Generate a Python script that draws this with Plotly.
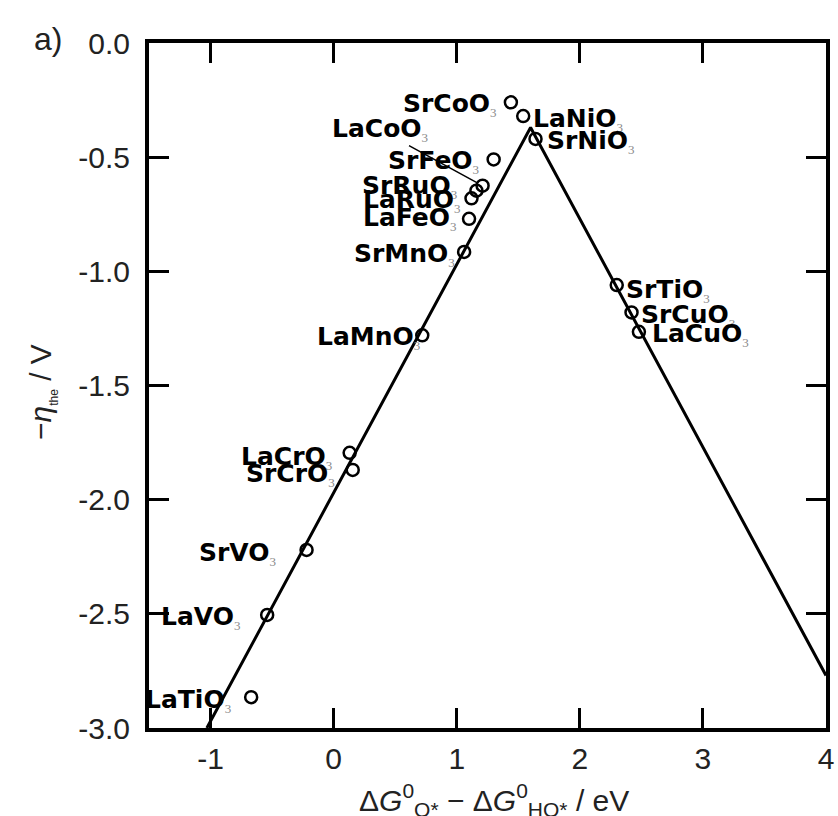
import plotly.graph_objects as go

# ---- data ----
compounds = ["SrCoO3", "LaNiO3", "SrNiO3", "SrFeO3", "LaCoO3", "SrRuO3", "LaRuO3",
             "LaFeO3", "SrMnO3", "LaMnO3", "SrTiO3", "SrCuO3", "LaCuO3", "LaCrO3",
             "SrCrO3", "SrVO3", "LaVO3", "LaTiO3"]
dG_diff = [1.44, 1.54, 1.64, 1.30, 1.21, 1.16, 1.12, 1.10, 1.06, 0.72, 2.30, 2.42,
           2.48, 0.13, 0.155, -0.22, -0.54, -0.67]
neg_eta = [-0.26, -0.32, -0.42, -0.51, -0.625, -0.647, -0.68, -0.77, -0.915, -1.28,
           -1.06, -1.18, -1.265, -1.795, -1.87, -2.22, -2.505, -2.865]

volcano_x = [-1.03, 1.60, 4.0]
volcano_y = [-3.0, -0.37, -2.77]

x_ticks = [-1, 0, 1, 2, 3, 4]
x_ticktext = ["-1", "0", "1", "2", "3", "4"]
y_ticks = [0.0, -0.5, -1.0, -1.5, -2.0, -2.5, -3.0]
y_ticktext = ["0.0", "-0.5", "-1.0", "-1.5", "-2.0", "-2.5", "-3.0"]

# ---- label placement (style only) ----
label_pos = {
    "SrCoO3": ("L", -13, 1), "LaNiO3": ("R", 9, 0), "SrNiO3": ("R", 10, 0),
    "SrFeO3": ("L", -14, 1), "SrRuO3": ("L", -18, 7), "LaRuO3": ("L", -10, 1),
    "LaFeO3": ("L", -11, 3), "SrMnO3": ("L", -8, 0), "LaMnO3": ("L", -1, 1),
    "SrTiO3": ("R", 8, -2), "SrCuO3": ("R", 8, 0), "LaCuO3": ("R", 12, 0),
    "LaCrO3": ("L", -17, -2), "SrCrO3": ("L", -17, -2), "SrVO3": ("L", -30, -1),
    "LaVO3": ("L", -26, 0), "LaTiO3": ("L", -19, 0),
}
SUB_Y = 3


def fmt(name):
    base, sub = name[:-1], name[-1]
    return ("<b>%s</b><sub><span style=\"font-family:Liberation Serif;"
            "font-size:13px;color:#8a8a8a\">%s</span></sub>" % (base, sub))


fig = go.Figure()
fig.add_trace(go.Scatter(x=volcano_x, y=volcano_y, mode="lines",
                         line=dict(color="black", width=3), showlegend=False,
                         hoverinfo="skip"))
fig.add_trace(go.Scatter(x=dG_diff, y=neg_eta, mode="markers",
                         marker=dict(symbol="circle-open", size=12,
                                     color="black", line=dict(width=2.5, color="black")),
                         text=compounds, showlegend=False))

label_font = dict(family="DejaVu Sans", size=25, color="black")
annotations = []
for name, xv, yv in zip(compounds, dG_diff, neg_eta):
    if name == "LaCoO3":
        annotations.append(dict(x=xv, y=yv, xref="x", yref="y", text=fmt(name),
                                showarrow=True, arrowhead=0, arrowwidth=1.5,
                                arrowcolor="black", ax=-103, ay=-56, standoff=6,
                                font=label_font, borderpad=0))
        continue
    side, dx, dy = label_pos[name]
    annotations.append(dict(x=xv, y=yv, xref="x", yref="y", text=fmt(name),
                            showarrow=False, xanchor="right" if side == "L" else "left",
                            yanchor="middle", xshift=dx, yshift=dy - SUB_Y,
                            font=label_font, borderpad=0))

tick_font = dict(family="Liberation Sans", size=30, color="#222222")
title_font = dict(family="Liberation Sans", size=30, color="#222222")

annotations.append(dict(x=-0.149, y=1.006, xref="paper", yref="paper", text="a)",
                        showarrow=False, font=dict(family="Liberation Sans", size=32, color="#222222"),
                        xanchor="center", yanchor="middle"))
annotations.append(dict(x=-0.157, y=0.49, xref="paper", yref="paper",
                        text="\u2212<i>\u03b7</i><sub><span style=\"font-size:12px\">the</span></sub> / V",
                        textangle=-90, showarrow=False, font=title_font,
                        xanchor="center", yanchor="middle"))
annotations.append(dict(x=0.51, y=-0.072, xref="paper", yref="paper",
                        text="\u0394<i>G</i><sup>0</sup><sub>O*</sub> \u2212 \u0394<i>G</i><sup>0</sup><sub>HO*</sub> / eV",
                        showarrow=False, font=title_font, xanchor="center", yanchor="top"))

axis_common = dict(showline=True, linecolor="black", linewidth=4, mirror="ticks",
                   ticks="inside", ticklen=20, tickwidth=3, tickcolor="black",
                   showgrid=False, zeroline=False, tickfont=tick_font)

fig.update_layout(
    width=838, height=816,
    margin=dict(l=149, r=4, t=43, b=88),
    paper_bgcolor="white", plot_bgcolor="white",
    xaxis=dict(range=[-1.5, 4.0], tickvals=x_ticks, ticktext=x_ticktext,
               ticklabelstandoff=1, ticklabeloverflow="allow", **axis_common),
    yaxis=dict(range=[-3.0, 0.0], tickvals=y_ticks, ticktext=y_ticktext,
               ticklabelstandoff=9, **axis_common),
    annotations=annotations,
)

fig.write_html("out.html")
